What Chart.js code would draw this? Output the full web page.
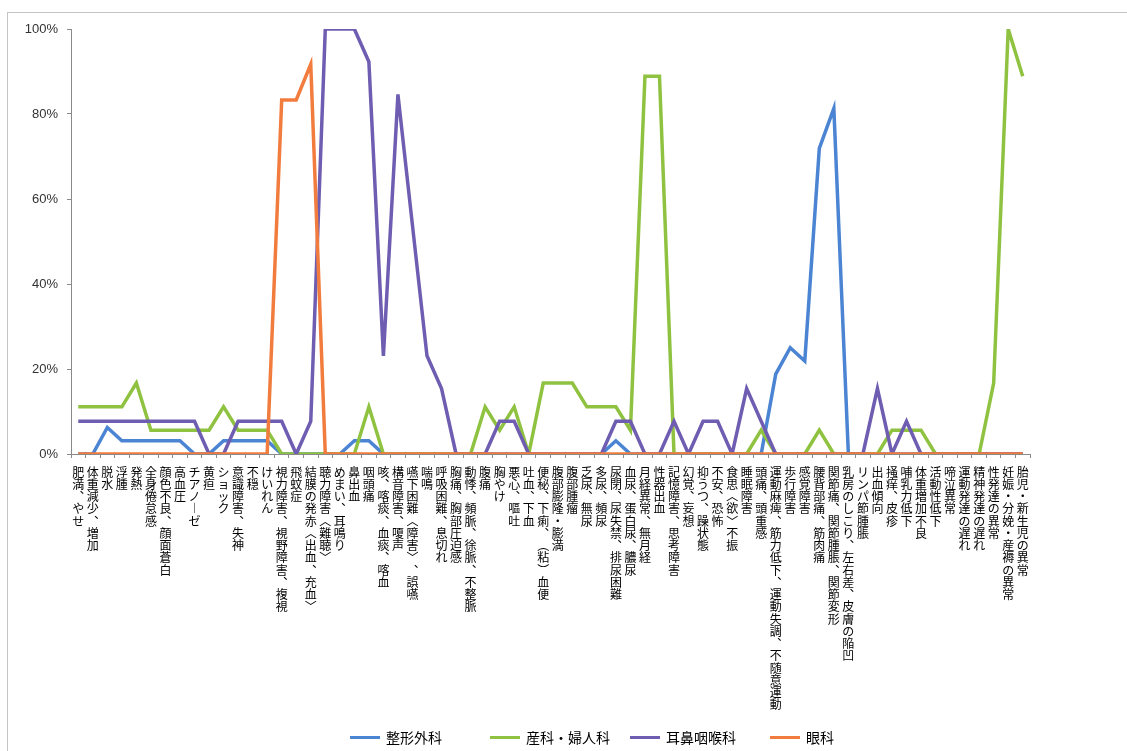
<!DOCTYPE html>
<html>
<head>
<meta charset="utf-8">
<script src="https://cdn.jsdelivr.net/npm/chart.js@4.4.1/dist/chart.umd.min.js"></script>
<style>
  html, body { margin: 0; padding: 0; background: #fff; overflow: hidden; }
  #wrap { position: relative; width: 1127px; height: 751px; }
  #frame { position: absolute; left: 7px; top: 12px; width: 1200px; height: 800px;
           border-top: 1px solid #c4c4c4; border-left: 1px solid #c4c4c4; }
  #chart { position: absolute; left: 0; top: 0; }
  #legend { position: absolute; left: 350px; top: 727px; height: 20px;
            font: 14px "Noto Sans CJK JP", sans-serif; color: #000; }
  .item { position: absolute; top: 0; display: flex; align-items: center; white-space: nowrap; height: 20px; }
  .swatch { width: 30px; height: 3px; margin-right: 6px; }
</style>
</head>
<body>
<div id="wrap">
  <div id="frame"></div>
  <canvas id="chart" width="1127" height="751"></canvas>
  <div id="legend"></div>
</div>
<script>
// 症候（66項目）
const symptoms = [
  "肥満、やせ", "体重減少、増加", "脱水", "浮腫", "発熱", "全身倦怠感",
  "顔色不良、顔面蒼白", "高血圧", "チアノーゼ", "黄疸", "ショック", "意識障害、失神",
  "不穏", "けいれん", "視力障害、視野障害、複視", "飛蚊症", "結膜の発赤<出血、充血>",
  "聴力障害<難聴>", "めまい、耳鳴り", "鼻出血", "咽頭痛", "咳、喀痰、血痰、喀血",
  "構音障害、嗄声", "嚥下困難<障害>、誤嚥", "喘鳴", "呼吸困難、息切れ", "胸痛、胸部圧迫感",
  "動悸、頻脈、徐脈、不整脈", "腹痛", "胸やけ", "悪心、嘔吐", "吐血、下血",
  "便秘、下痢、(粘)血便", "腹部膨隆・膨満", "腹部腫瘤", "乏尿、無尿", "多尿、頻尿",
  "尿閉、尿失禁、排尿困難", "血尿、蛋白尿、膿尿", "月経異常、無月経", "性器出血",
  "記憶障害、思考障害", "幻覚、妄想", "抑うつ、躁状態", "不安、恐怖", "食思<欲>不振",
  "睡眠障害", "頭痛、頭重感", "運動麻痺、筋力低下、運動失調、不随意運動", "歩行障害",
  "感覚障害", "腰背部痛、筋肉痛", "関節痛、関節腫脹、関節変形", "乳房のしこり、左右差、皮膚の陥凹",
  "リンパ節腫脹", "出血傾向", "掻痒、皮疹", "哺乳力低下", "体重増加不良", "活動性低下",
  "啼泣異常", "運動発達の遅れ", "精神発達の遅れ", "性発達の異常",
  "妊娠・分娩・産褥の異常", "胎児・新生児の異常"
];

// 診療科ごとの割合（%）
const seikeiGeka = [
  0, 0, 6.25, 3.1, 3.1, 3.1, 3.1, 3.1, 0, 0, 3.1, 3.1, 3.1, 3.1, 0, 0, 0, 0, 0, 3.1,
  3.1, 0, 0, 0, 0, 0, 0, 0, 0, 0, 0, 0, 0, 0, 0, 0, 0, 3.1, 0, 0,
  0, 0, 0, 0, 0, 0, 0, 0, 18.8, 25, 21.9, 71.9, 81.3, 0, 0, 0, 0, 0, 0, 0,
  0, 0, 0, 0, 0, 0
];
const sankaFujinka = [
  11.1, 11.1, 11.1, 11.1, 16.7, 5.6, 5.6, 5.6, 5.6, 5.6, 11.1, 5.6, 5.6, 5.6, 0, 0, 0, 0, 0, 0,
  11.1, 0, 0, 0, 0, 0, 0, 0, 11.1, 5.6, 11.1, 0, 16.7, 16.7, 16.7, 11.1, 11.1, 11.1, 5.6, 88.9,
  88.9, 0, 0, 0, 0, 0, 0, 5.6, 0, 0, 0, 5.6, 0, 0, 0, 0, 5.6, 5.6, 5.6, 0,
  0, 0, 0, 16.7, 100, 88.9
];
const jibiInkoka = [
  7.7, 7.7, 7.7, 7.7, 7.7, 7.7, 7.7, 7.7, 7.7, 0, 0, 7.7, 7.7, 7.7, 7.7, 0, 7.7, 100, 100, 100,
  92.3, 23.1, 84.6, 53.8, 23.1, 15.4, 0, 0, 0, 7.7, 7.7, 0, 0, 0, 0, 0, 0, 7.7, 7.7, 0,
  0, 7.7, 0, 7.7, 7.7, 0, 15.4, 7.7, 0, 0, 0, 0, 0, 0, 0, 15.4, 0, 7.7, 0, 0,
  0, 0, 0, 0, 0, 0
];
const ganka = [
  0, 0, 0, 0, 0, 0, 0, 0, 0, 0, 0, 0, 0, 0, 83.3, 83.3, 91.7, 0, 0, 0,
  0, 0, 0, 0, 0, 0, 0, 0, 0, 0, 0, 0, 0, 0, 0, 0, 0, 0, 0, 0,
  0, 0, 0, 0, 0, 0, 0, 0, 0, 0, 0, 0, 0, 0, 0, 0, 0, 0, 0, 0,
  0, 0, 0, 0, 0, 0
];

const yTicks = [0, 20, 40, 60, 80, 100];

const seriesNames = ["整形外科", "産科・婦人科", "耳鼻咽喉科", "眼科"];
const seriesValues = [seikeiGeka, sankaFujinka, jibiInkoka, ganka];
const seriesColors = ["#4a84d2", "#8fc241", "#6e5db0", "#f27c3e"];

// 縦書き表示：1文字ずつ行に分け、縦書き用の字形に置き換える
const verticalForms = { "、": "︑", "<": "︿", ">": "﹀", "ー": "︱", "(": "︵", ")": "︶" };
const toVertical = s => Array.from(s).map(c => verticalForms[c] || c);

const axisColor = "#8a8a8a";

const datasets = seriesNames.map((name, i) => ({
  label: name,
  data: seriesValues[i],
  borderColor: seriesColors[i],
  backgroundColor: seriesColors[i],
  borderWidth: 3.5,
  pointRadius: 0,
  pointHoverRadius: 0,
  tension: 0,
  fill: false,
  order: seriesNames.length - i
}));

new Chart(document.getElementById("chart"), {
  type: "line",
  data: { labels: symptoms.map(toVertical), datasets },
  options: {
    responsive: false,
    animation: false,
    events: [],
    layout: { padding: { left: 0, right: 97, top: 29, bottom: 33 } },
    plugins: { legend: { display: false }, tooltip: { enabled: false } },
    scales: {
      x: {
        type: "category",
        offset: true,
        grid: { offset: true, drawOnChartArea: false, drawTicks: true, tickLength: 4, color: axisColor },
        border: { color: axisColor, width: 1 },
        ticks: {
          autoSkip: false, maxRotation: 0, minRotation: 0, padding: 8,
          color: "#000",
          font: { family: "'Noto Sans CJK JP'", size: 12, lineHeight: 1.02 }
        },
        afterFit: s => { s.height = 264; }
      },
      y: {
        min: 0, max: 100,
        afterBuildTicks: s => { s.ticks = yTicks.map(v => ({ value: v })); },
        grid: { drawOnChartArea: false, drawTicks: true, tickLength: 4, color: axisColor },
        border: { color: axisColor, width: 1 },
        ticks: {
          padding: 9, color: "#333",
          font: { family: "'Liberation Sans'", size: 13 },
          callback: v => v + "%"
        },
        afterFit: s => { s.width = 71; }
      }
    }
  }
});

// 凡例（各項目は同じ幅の枠に並べる）
const legend = document.getElementById("legend");
const legendSlot = 140;
seriesNames.forEach((name, i) => {
  const item = document.createElement("div");
  item.className = "item";
  item.style.left = (i * legendSlot) + "px";
  const sw = document.createElement("span");
  sw.className = "swatch";
  sw.style.background = seriesColors[i];
  const tx = document.createElement("span");
  tx.textContent = name;
  item.appendChild(sw);
  item.appendChild(tx);
  legend.appendChild(item);
});
</script>
</body>
</html>
